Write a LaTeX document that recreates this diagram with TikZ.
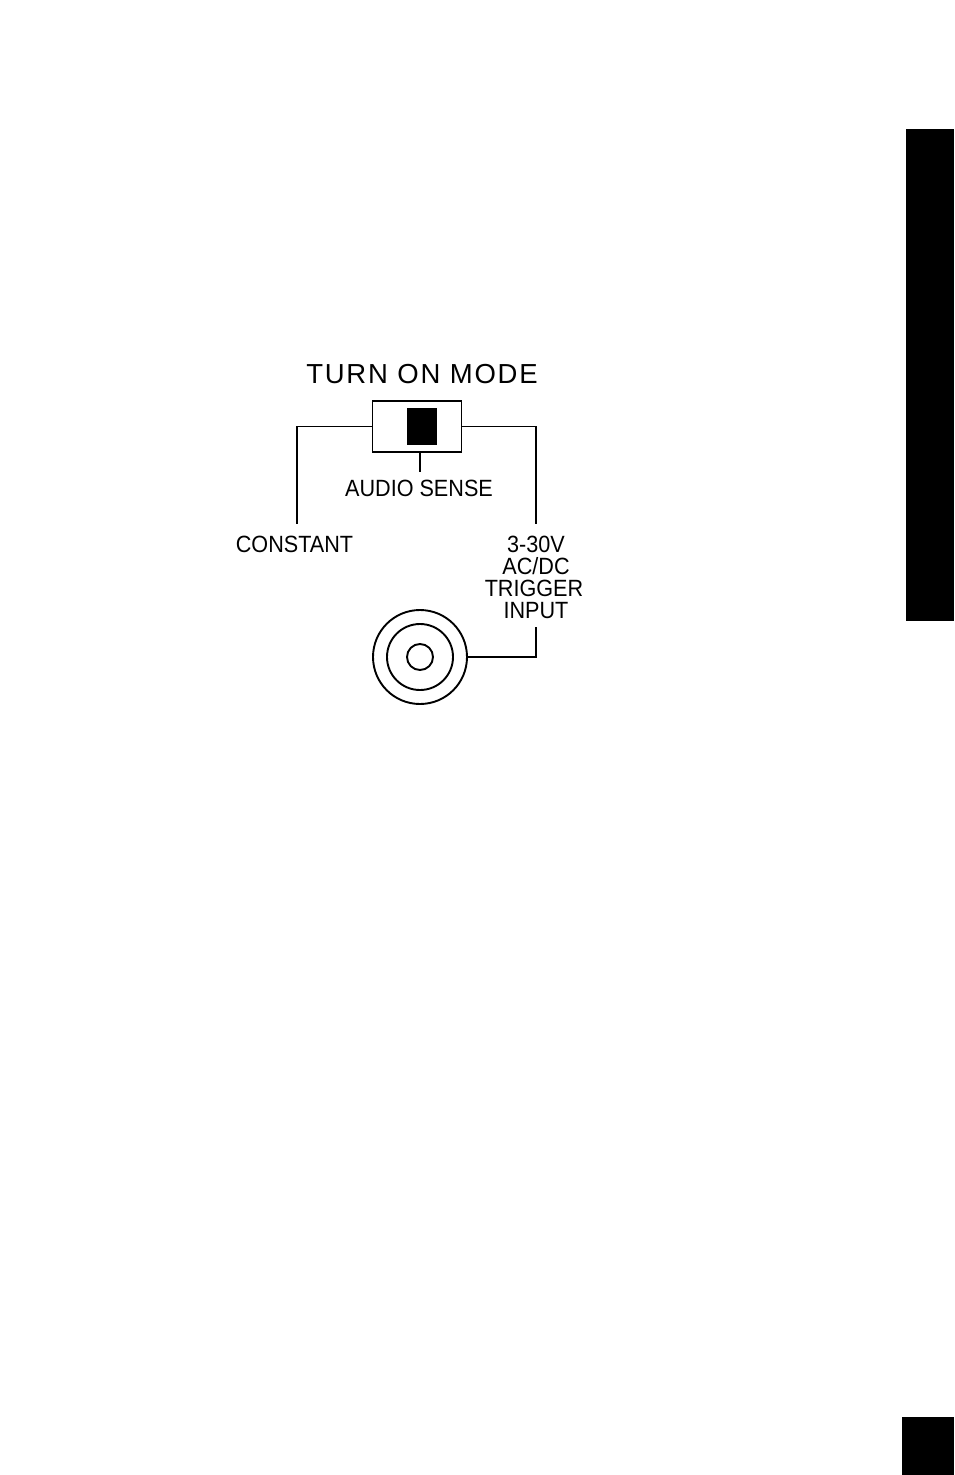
\documentclass[tikz,border=0pt]{standalone}
\usepackage{fontspec}
\setmainfont{Liberation Sans}[FakeStretch=0.92]
\newfontfamily\titlefont{Liberation Sans}[LetterSpace=6.5]
\begin{document}
\begin{tikzpicture}[x=1pt,y=-1pt,
  wire/.style={line width=1.9pt},
  lbl/.style={inner sep=0pt,anchor=base,font=\fontsize{23.5}{22}\selectfont},
  ttl/.style={inner sep=0pt,anchor=base,font=\titlefont\fontsize{27.5}{28}\selectfont},
  bar/.style={fill=black,draw=none,inner sep=0pt,anchor=north west}]
\useasboundingbox (0,0) rectangle (954,1475);
% side tabs
\node[bar,minimum width=48pt,minimum height=492pt] (tab) at (906,129) {};
\node[bar,minimum width=52pt,minimum height=58pt] (pg) at (902,1417) {};
% title
\node[ttl] (title) at (422,383) {TURN ON MODE};
% switch
\node[draw,line width=1.8pt,minimum width=89pt,minimum height=51pt,inner sep=0pt] (sw) at (417,426.5) {};
\node[fill=black,minimum width=30.5pt,minimum height=37.5pt,inner sep=0pt] (slider) at (422,426.5) {};
\coordinate (cl) at (297,524);
\coordinate (cr) at (536,524);
\coordinate (tk) at (420,471.5);
\coordinate (ti) at (536,627);
\draw[wire] (sw.west) -| (cl);
\draw[wire] (sw.east) -| (cr);
\draw[wire] (sw.south -| tk) -- (tk);
% labels
\node[lbl] (audio) at (419,496) {AUDIO SENSE};
\node[lbl] (const) at (294.5,552) {CONSTANT};
\node[lbl] (t1) at (536,552) {3-30V};
\node[lbl] (t2) at (536,574) {AC/DC};
\node[lbl] (t3) at (534,596) {TRIGGER};
\node[lbl] (t4) at (536,618) {INPUT};
% jack
\node[draw,circle,line width=1.9pt,minimum size=94pt,inner sep=0pt] (jack) at (420,657) {};
\node[draw,circle,line width=1.9pt,minimum size=66pt,inner sep=0pt] (jmid) at (420,657) {};
\node[draw,circle,line width=1.9pt,minimum size=26pt,inner sep=0pt] (jin) at (420,657) {};
\draw[wire] (jack.east) -| (ti);
\end{tikzpicture}
\end{document}
